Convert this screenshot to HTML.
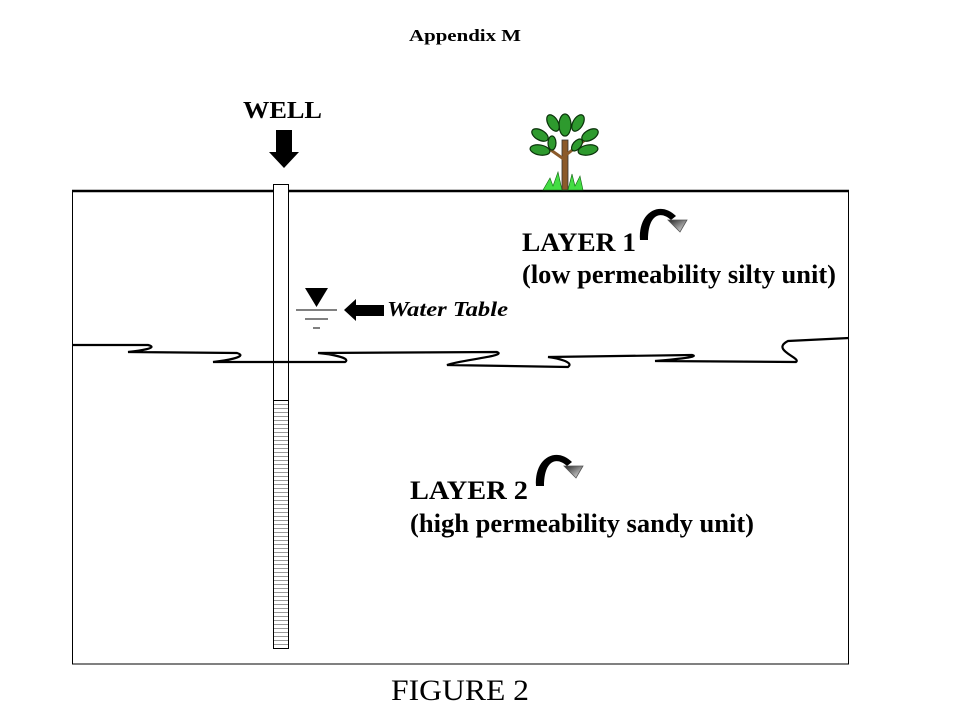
<!DOCTYPE html>
<html><head><meta charset="utf-8"><style>
html,body{margin:0;padding:0;background:#fff;width:960px;height:720px;overflow:hidden}
svg{display:block}
text{font-family:"Liberation Serif",serif}
</style></head><body>
<svg width="960" height="720" viewBox="0 0 960 720" xmlns="http://www.w3.org/2000/svg">
<defs>
<linearGradient id="g" x1="0" y1="0" x2="1" y2="1"><stop offset="0" stop-color="#222"/><stop offset="1" stop-color="#eee"/></linearGradient>
<pattern id="h" width="16" height="4" patternUnits="userSpaceOnUse"><rect width="16" height="4" fill="#fff"/><line x1="0" y1="0.5" x2="16" y2="0.5" stroke="#999" stroke-width="1"/></pattern>
</defs>
<text x="409" y="41" font-size="17" font-weight="bold" textLength="112" lengthAdjust="spacingAndGlyphs">Appendix M</text>
<text x="243" y="118" font-size="24" font-weight="bold" textLength="79" lengthAdjust="spacingAndGlyphs">WELL</text>
<polygon points="276,130 292,130 292,152 299,152 284,168 269,152 276,152" fill="#000"/>
<rect x="72.5" y="191" width="776" height="473" fill="none" stroke="#000" stroke-width="1"/>
<line x1="72" y1="191" x2="849" y2="191" stroke="#000" stroke-width="2.5"/>
<g>
<rect x="562" y="140" width="6" height="50" fill="#8b5a2b" stroke="#333" stroke-width="0.8"/>
<line x1="565" y1="160" x2="548" y2="148" stroke="#8b5a2b" stroke-width="3"/>
<line x1="566" y1="155" x2="585" y2="140" stroke="#8b5a2b" stroke-width="3"/>
<g fill="#2e9a2e" stroke="#0b330b" stroke-width="1.2">
<ellipse cx="565" cy="125" rx="6" ry="11"/>
<ellipse cx="553" cy="123" rx="5" ry="9" transform="rotate(-30 553 123)"/>
<ellipse cx="578" cy="123" rx="5" ry="9" transform="rotate(30 578 123)"/>
<ellipse cx="540" cy="135" rx="5" ry="9" transform="rotate(-60 540 135)"/>
<ellipse cx="590" cy="135" rx="5" ry="9" transform="rotate(60 590 135)"/>
<ellipse cx="540" cy="150" rx="5" ry="10" transform="rotate(-80 540 150)"/>
<ellipse cx="588" cy="150" rx="5" ry="10" transform="rotate(80 588 150)"/>
<ellipse cx="552" cy="143" rx="4" ry="7"/>
<ellipse cx="577" cy="145" rx="4" ry="7" transform="rotate(40 577 145)"/>
</g>
<polygon points="543,190 550,178 553,186 558,172 562,190 568,190 572,174 575,186 580,176 583,190" fill="#44dd44" stroke="#116611" stroke-width="0.6"/>
</g>
<rect x="273.5" y="184.5" width="15" height="216" fill="#fff" stroke="#000" stroke-width="1"/>
<rect x="273.5" y="400.5" width="15" height="248" fill="url(#h)" stroke="#000" stroke-width="1"/>
<polygon points="305,288 328,288 316.5,307" fill="#000"/>
<line x1="296" y1="310" x2="337" y2="310" stroke="#000" stroke-width="1"/>
<line x1="305" y1="319" x2="328" y2="319" stroke="#000" stroke-width="1"/>
<line x1="313" y1="328" x2="320" y2="328" stroke="#000" stroke-width="1"/>
<polygon points="344,310 356,299 356,305 384,305 384,316 356,316 356,321" fill="#000"/>
<text x="387" y="316" font-size="21" font-weight="bold" font-style="italic" textLength="121" lengthAdjust="spacingAndGlyphs">Water Table</text>
<path d="M72,345 L148,345 C160,348 138,351 128,352 L237,353 C250,357 222,361 213,362 L345,362 C352,358 330,354 318,353 L497,352 C508,356 460,360 447,365 L568,367 C575,362 556,358 548,357 L692,355 C702,357 668,360 655,361 L796,362 C802,358 770,350 788,341 L849,338" fill="none" stroke="#000" stroke-width="2.2"/>
<path d="M640,240 C638,212 660,200 676,216 L671,220 C660,210 648,215 648,240 Z" fill="#000"/>
<polygon points="668,220 687,220 680,232" fill="url(#g)" stroke="#555" stroke-width="0.8"/>
<text x="522" y="251" font-size="26" font-weight="bold" textLength="114" lengthAdjust="spacingAndGlyphs">LAYER 1</text>
<text x="522" y="283" font-size="26" font-weight="bold" textLength="314" lengthAdjust="spacingAndGlyphs">(low permeability silty unit)</text>
<path d="M536,486 C534,458 556,446 572,462 L567,466 C556,456 544,461 544,486 Z" fill="#000"/>
<polygon points="564,466 583,466 576,478" fill="url(#g)" stroke="#555" stroke-width="0.8"/>
<text x="410" y="499" font-size="26" font-weight="bold" textLength="118" lengthAdjust="spacingAndGlyphs">LAYER 2</text>
<text x="410" y="532" font-size="26" font-weight="bold" textLength="344" lengthAdjust="spacingAndGlyphs">(high permeability sandy unit)</text>
<text x="391" y="700" font-size="30" textLength="138" lengthAdjust="spacingAndGlyphs">FIGURE 2</text>
</svg>
</body></html>
